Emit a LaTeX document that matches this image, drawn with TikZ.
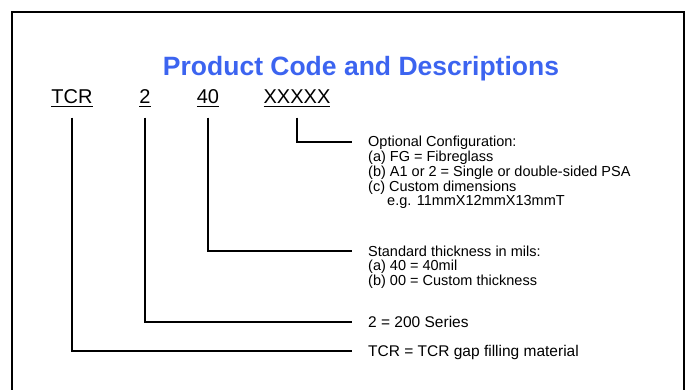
\documentclass[tikz,border=0pt]{standalone}
\usepackage{fontspec}
\setmainfont{Liberation Sans}
\usepackage{xcolor}
\definecolor{titleblue}{RGB}{60,100,240}

\newcommand{\ulcode}[1]{\setbox0\hbox{#1}\rlap{\rule[-3.5pt]{\wd0}{1.4pt}}\box0}
\newcommand{\desclines}[1]{\begin{tabular}[t]{@{}l@{}}#1\end{tabular}}

\begin{document}
\begin{tikzpicture}[x=1pt,y=-1pt,
  code/.style={anchor=base,inner sep=0pt,font=\fontsize{20}{24}\selectfont},
  desc/.style={anchor=base west,inner sep=0pt,font=\fontsize{14.5}{14}\selectfont},
  descbig/.style={desc,font=\fontsize{15.5}{16}\selectfont},
  conn/.style={line width=1.5pt}]
\useasboundingbox (0,0) rectangle (688,390);
\draw[line width=1.5pt] (12,395) -- (12,12) -- (684,12) -- (684,395);
\node[anchor=base,inner sep=0pt,text=titleblue,font=\fontsize{26.5}{30}\selectfont\bfseries] (head) at (361,76) {Product Code and Descriptions};
% the code
\node[code] (tcr) at (72,104) {\ulcode{TCR}};
\node[code] (ser) at (145,104) {\ulcode{2}};
\node[code] (thk) at (208,104) {\ulcode{40}};
\node[code] (opt) at (297,104) {\ulcode{XXXXX}};
% what each part means
\node[desc] (dopt) at (368,147) {\desclines{Optional Configuration:\\
  (a) FG = Fibreglass\\
  (b) A1 or 2 = Single or double-sided PSA\\
  (c) Custom dimensions\\
  \hspace*{19pt}e.g. 11mmX12mmX13mmT}};
\node[desc] (dthk) at (368,256) {\desclines{Standard thickness in mils:\\
  (a) 40 = 40mil\\
  (b) 00 = Custom thickness}};
\node[descbig] (dser) at (368,327) {2 = 200 Series};
\node[descbig] (dtcr) at (368,356) {TCR = TCR gap filling material};
% connectors
\draw[conn] ([yshift=-10pt]opt.south) |- ([shift={(-16pt,5pt)}]dopt.base west);
\draw[conn] ([yshift=-10pt]thk.south) |- ([shift={(-16pt,5pt)}]dthk.base west);
\draw[conn] ([yshift=-10pt]ser.south) |- ([shift={(-16pt,5pt)}]dser.base west);
\draw[conn] ([yshift=-10pt]tcr.south) |- ([shift={(-16pt,5pt)}]dtcr.base west);
\end{tikzpicture}
\end{document}
